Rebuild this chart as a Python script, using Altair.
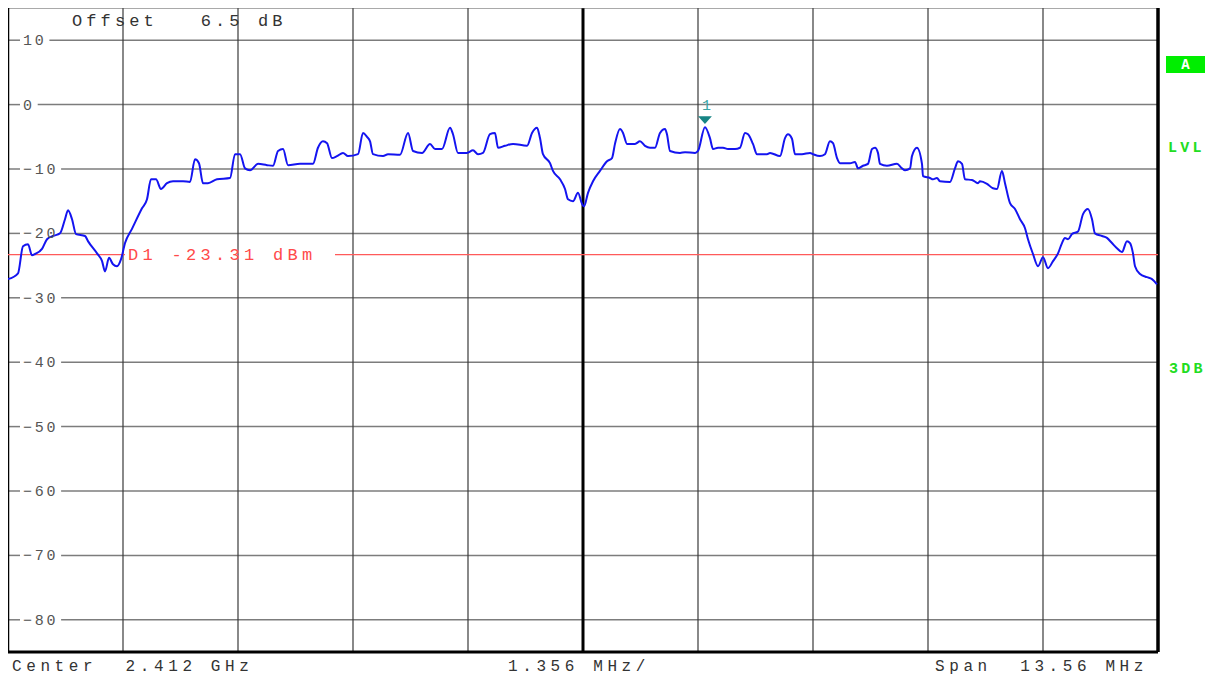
import altair as alt
import pandas as pd

# ---------------- data ----------------
# trace: frequency offset from centre (MHz) and level (dBm)
FREQ_MHZ = [
    -6.780, -6.662, -6.603, -6.544, -6.497, -6.461, -6.379, -6.320, -6.249, -6.167,
    -6.108, -6.072, -6.025, -5.978, -5.872, -5.837, -5.730, -5.671, -5.636, -5.589,
    -5.542, -5.495, -5.447, -5.400, -5.318, -5.200, -5.141, -5.094, -5.035, -4.976,
    -4.905, -4.834, -4.716, -4.634, -4.575, -4.528, -4.481, -4.422, -4.316, -4.162,
    -4.103, -4.044, -3.985, -3.926, -3.832, -3.726, -3.655, -3.596, -3.537, -3.478,
    -3.337, -3.184, -3.125, -3.066, -3.018, -2.960, -2.901, -2.830, -2.771, -2.653,
    -2.594, -2.547, -2.511, -2.476, -2.358, -2.299, -2.158, -2.063, -2.004, -1.898,
    -1.804, -1.745, -1.663, -1.568, -1.533, -1.474, -1.368, -1.297, -1.238, -1.179,
    -1.097, -1.038, -1.002, -0.920, -0.825, -0.660, -0.601, -0.542, -0.507, -0.472,
    -0.389, -0.354, -0.271, -0.212, -0.177, -0.118, -0.059, -0.012, 0.012, 0.059,
    0.118, 0.200, 0.283, 0.342, 0.377, 0.436, 0.472, 0.519, 0.613, 0.672,
    0.731, 0.790, 0.849, 0.908, 0.967, 0.990, 1.026, 1.144, 1.203, 1.321,
    1.356, 1.438, 1.497, 1.533, 1.592, 1.651, 1.710, 1.792, 1.851, 1.910,
    1.946, 2.004, 2.052, 2.170, 2.205, 2.323, 2.382, 2.417, 2.464, 2.500,
    2.582, 2.677, 2.712, 2.794, 2.853, 2.912, 2.948, 2.995, 3.030, 3.148,
    3.207, 3.243, 3.301, 3.360, 3.408, 3.443, 3.478, 3.502, 3.584, 3.702,
    3.761, 3.797, 3.856, 3.879, 3.938, 3.997, 4.009, 4.091, 4.127, 4.174,
    4.209, 4.327, 4.386, 4.422, 4.469, 4.504, 4.587, 4.657, 4.681, 4.764,
    4.834, 4.881, 4.940, 4.976, 5.035, 5.094, 5.153, 5.212, 5.247, 5.306,
    5.365, 5.424, 5.483, 5.542, 5.601, 5.648, 5.683, 5.719, 5.766, 5.837,
    5.896, 5.954, 6.002, 6.037, 6.120, 6.178, 6.237, 6.296, 6.355, 6.414,
    6.450, 6.485, 6.509, 6.568, 6.650, 6.709, 6.768,
]
LEVEL_DBM = [
    -27.1, -26.2, -22.0, -21.7, -23.4, -23.2, -22.4, -20.9, -20.4, -20.0,
    -17.8, -16.4, -17.8, -20.1, -20.4, -21.2, -23.1, -24.3, -25.9, -23.8,
    -24.8, -25.1, -24.0, -21.5, -19.3, -16.1, -14.7, -11.6, -11.6, -13.1,
    -12.2, -11.9, -11.9, -12.0, -8.5, -9.1, -12.2, -12.2, -11.6, -11.4,
    -7.7, -7.7, -9.9, -10.2, -9.2, -9.4, -9.5, -7.2, -6.9, -9.4,
    -9.2, -9.2, -6.7, -5.7, -6.0, -8.3, -8.0, -7.5, -8.0, -7.7,
    -4.4, -5.0, -5.7, -7.7, -8.0, -7.7, -7.8, -4.4, -7.2, -7.5,
    -6.1, -6.9, -6.9, -3.6, -4.6, -7.5, -7.5, -7.1, -7.7, -7.5,
    -4.6, -4.4, -6.7, -6.4, -6.1, -6.4, -4.4, -3.6, -5.2, -7.7,
    -9.1, -10.3, -11.6, -13.1, -14.7, -15.0, -13.7, -15.4, -15.8, -13.7,
    -11.9, -10.3, -8.8, -8.3, -6.1, -3.8, -4.4, -6.1, -6.1, -5.7,
    -6.4, -6.7, -6.7, -4.4, -3.8, -4.6, -7.2, -7.5, -7.4, -7.5,
    -7.2, -3.5, -5.2, -6.9, -6.7, -6.7, -6.9, -6.9, -6.7, -4.4,
    -4.6, -6.1, -7.7, -7.7, -7.5, -8.0, -5.2, -4.6, -5.3, -7.7,
    -7.7, -7.5, -7.7, -8.0, -7.7, -5.7, -6.0, -8.3, -9.1, -9.1,
    -8.9, -9.9, -9.5, -9.2, -6.9, -6.7, -7.5, -9.2, -9.5, -9.2,
    -9.9, -10.2, -9.9, -8.0, -6.7, -9.2, -11.1, -11.4, -11.6, -11.4,
    -11.9, -12.0, -9.9, -8.8, -9.2, -11.6, -11.7, -12.2, -11.9, -12.3,
    -13.0, -13.1, -10.3, -12.2, -15.3, -16.2, -17.8, -19.2, -20.9, -23.2,
    -25.1, -23.7, -25.4, -24.3, -23.1, -21.5, -20.7, -20.9, -20.1, -19.7,
    -17.0, -16.2, -17.8, -20.0, -20.4, -20.7, -21.5, -22.3, -22.9, -21.2,
    -21.5, -23.1, -25.1, -26.3, -26.8, -27.1, -27.9,
]
MARKER_INDEX = 121            # marker 1 sits on this trace point
CENTER_GHZ = "2.412"
SPAN_MHZ = 13.56
DIV_MHZ = 1.356
N_DIV = 10
Y_MIN, Y_MAX = -85, 15
Y_TICKS = [10, 0, -10, -20, -30, -40, -50, -60, -70, -80]
D1_DBM = -23.31
OFFSET_DB = "6.5"

# ---------------- layout / style ----------------
W, H = 1150, 644
FONT = "Liberation Mono"
PX_PER_MHZ = W / SPAN_MHZ
PX_PER_DB = H / (Y_MAX - Y_MIN)
X0, X1 = -SPAN_MHZ / 2, SPAN_MHZ / 2


def fx(px):  # pixels from left edge of plot -> MHz
    return X0 + px / PX_PER_MHZ


def fy(py):  # pixels from top of plot -> dB
    return Y_MAX - py / PX_PER_DB


xs = alt.Scale(domain=[X0, X1], nice=False, zero=False)
ys = alt.Scale(domain=[Y_MIN, Y_MAX], nice=False, zero=False)


def X(f="x"):
    return alt.X(f"{f}:Q", scale=xs, axis=None)


def Y(f="y"):
    return alt.Y(f"{f}:Q", scale=ys, axis=None)


def spaced(text, x_px, y_val, pitch):
    return [{"ch": c, "x": fx(x_px + i * pitch), "y": y_val}
            for i, c in enumerate(text) if c != " "]


def text_layer(rows, color, size, weight="normal", align="left", baseline="middle"):
    return alt.Chart(pd.DataFrame(rows)).mark_text(
        font=FONT, fontSize=size, fontWeight=weight, color=color,
        align=align, baseline=baseline,
    ).encode(x=X(), y=Y(), text="ch:N")


def rules(rows, color, width):
    return alt.Chart(pd.DataFrame(rows)).mark_rule(color=color, strokeWidth=width).encode(
        x=X("x"), x2="x2:Q", y=Y("y"), y2="y2:Q")


# horizontal grid lines, interrupted by their labels
LBL_PITCH = 11.7
LBL_X = 15
hrows, tick_rows = [], []
for t in Y_TICKS:
    s = str(t).replace("-", "\u2212")
    end_px = LBL_X + len(s) * LBL_PITCH + 3
    hrows.append({"x": X0, "x2": fx(12), "y": t, "y2": t})
    hrows.append({"x": fx(end_px), "x2": X1, "y": t, "y2": t})
    tick_rows += spaced(s, LBL_X, t, LBL_PITCH)

# vertical grid lines
vrows = [{"x": X0 + k * DIV_MHZ, "x2": X0 + k * DIV_MHZ, "y": Y_MIN, "y2": Y_MAX}
         for k in range(1, N_DIV) if k != N_DIV // 2]
crow = [{"x": 0.0, "x2": 0.0, "y": Y_MIN, "y2": Y_MAX}]

hgrid = rules(hrows, "#7c7c7c", 1.5)
vgrid = rules(vrows, "#3a3a3a", 1.2)
cgrid = rules(crow, "#000000", 3)

frame = alt.layer(
    rules([{"x": X0, "x2": X1, "y": Y_MAX, "y2": Y_MAX}], "#555555", 1),
    rules([{"x": X0, "x2": X1, "y": Y_MIN, "y2": Y_MIN}], "#000000", 3),
    rules([{"x": X0, "x2": X0, "y": Y_MIN, "y2": Y_MAX}], "#000000", 2.5),
    rules([{"x": X1, "x2": X1, "y": Y_MIN, "y2": Y_MAX}], "#000000", 3.5),
)

# display line D1 (gap where its label sits)
d1_rows = [{"x": X0, "x2": fx(117), "y": D1_DBM, "y2": D1_DBM},
           {"x": fx(327), "x2": X1, "y": D1_DBM, "y2": D1_DBM}]
d1_line = rules(d1_rows, "#ff5a5a", 1.2)
d1_text = text_layer(spaced(f"D1 {D1_DBM:.2f} dBm", 120, D1_DBM, 14.5), "#ff4a4a", 17)

# trace
trace_df = pd.DataFrame({"x": FREQ_MHZ, "y": LEVEL_DBM})
trace = alt.Chart(trace_df).mark_line(
    color="#1414f0", strokeWidth=2, interpolate="monotone").encode(x=X(), y=Y())

# marker 1
mf, ml = FREQ_MHZ[MARKER_INDEX], LEVEL_DBM[MARKER_INDEX]
marker = alt.Chart(pd.DataFrame({"x": [mf], "y": [ml + 7 / PX_PER_DB]})).mark_point(
    shape="M-1,-0.55L1,-0.55L0,0.55Z", size=190, filled=True, color="#168585", opacity=1,
).encode(x=X(), y=Y())
marker_lbl = alt.Chart(pd.DataFrame({"x": [mf], "y": [ml + 22 / PX_PER_DB], "ch": ["1"]})).mark_text(
    font=FONT, fontSize=15, color="#3aa5a5", align="left", baseline="middle", dx=-3,
).encode(x=X(), y=Y(), text="ch:N")

# annotation texts
offset_txt = text_layer(spaced(f"Offset   {OFFSET_DB} dB", 64, fy(13), 14.3), "#333333", 17)
bottom_rows = (spaced(f"Center  {CENTER_GHZ} GHz", 4, fy(658), 14.2)
               + spaced(f"{DIV_MHZ:.3f} MHz/", 500, fy(658), 14.2)
               + spaced(f"Span  {SPAN_MHZ:.2f} MHz", 927, fy(658), 14.2))
bottom_txt = text_layer(bottom_rows, "#333333", 16)
ticks_txt = text_layer(tick_rows, "#555555", 15)

# right-side annotations
abox = alt.Chart(pd.DataFrame({"x": [fx(1158)], "x2": [fx(1197)], "y": [fy(48)], "y2": [fy(65)]})).mark_rect(
    color="#00ee00").encode(x=X(), x2="x2:Q", y=Y(), y2="y2:Q")
a_txt = text_layer([{"ch": "A", "x": fx(1177.5), "y": fy(56.5)}], "#ffffff", 14, "bold", align="center")
side_txt = text_layer(spaced("LVL", 1160, fy(139), 12.3) + spaced("3DB", 1161, fy(360), 12.3),
                      "#22dd22", 15, "bold")

chart = alt.layer(
    hgrid, vgrid, cgrid, frame, d1_line, trace, marker, marker_lbl,
    d1_text, offset_txt, bottom_txt, ticks_txt, abox, a_txt, side_txt,
).properties(
    width=W, height=H,
    padding={"left": 0, "top": 0, "right": 50, "bottom": 26},
    autosize=alt.AutoSizeParams(type="none"),
).configure_view(stroke=None)

chart.save("out.html", embed_options={"renderer": "svg", "actions": False})
